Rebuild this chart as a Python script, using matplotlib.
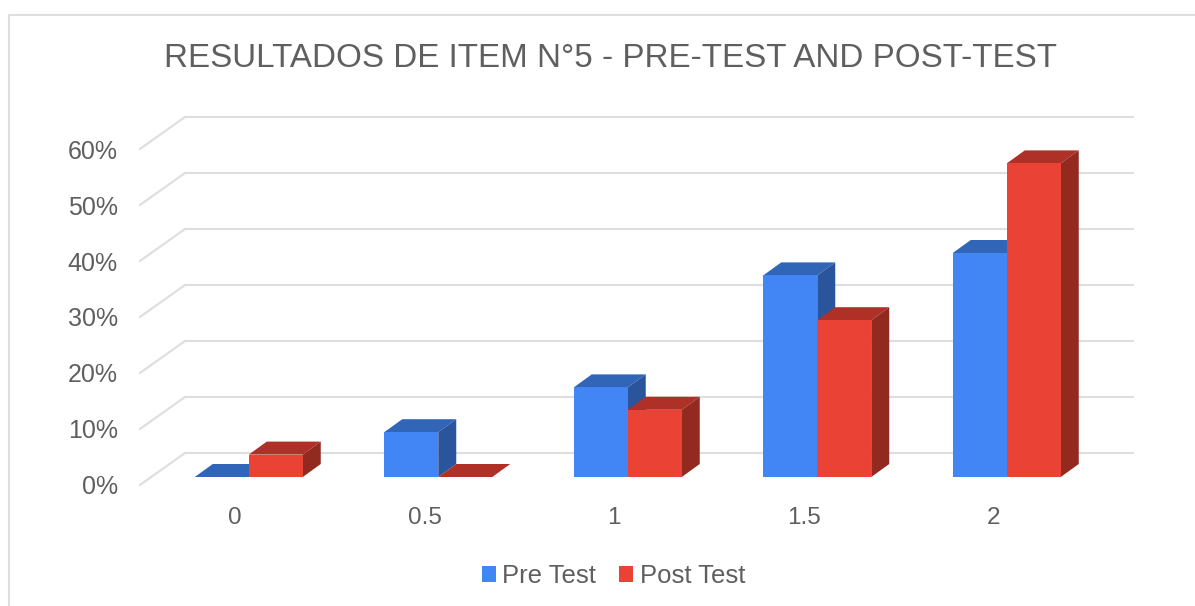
import matplotlib
matplotlib.use("Agg")
import matplotlib.pyplot as plt
from matplotlib.lines import Line2D
from matplotlib.patches import Patch, Polygon
import numpy as np

plt.rcParams['font.family'] = ['Liberation Sans', 'DejaVu Sans']

TITLE = "RESULTADOS DE ITEM N°5 - PRE-TEST AND POST-TEST"
categories = ["0", "0.5", "1", "1.5", "2"]
pre_test = [0, 8, 16, 36, 40]
post_test = [4, 0, 12, 28, 56]
y_ticks = [0, 10, 20, 30, 40, 50, 60]

FIG_W, FIG_H = 1195, 606
TEXT_COLOR = "#5f5f5f"
GRID_COLOR = "#dedede"
PRE_COLORS = ("#4285f4", "#3165b7", "#2a549c")    # front, top, side
POST_COLORS = ("#ea4335", "#ae3026", "#932a20")

# plot area, in pixels: the plane of the bar fronts
AX_LEFT, AX_RIGHT = 154, 1101.5
AX_ZERO, AX_TOP = 477, 141
PX_X = (AX_RIGHT - AX_LEFT) / len(categories)
PX_Y = (AX_ZERO - AX_TOP) / 60


def draw_bars(ax, xs, values, width, colors, depth_x, depth_y, z):
	front, top, side = colors
	for x, v in zip(xs, values):
		left, right = x - width / 2, x + width / 2
		ax.add_patch(Polygon([(left, v), (right, v), (right + depth_x, v + depth_y), (left + depth_x, v + depth_y)],
							 facecolor=top, edgecolor="none", zorder=z, clip_on=False))
		ax.add_patch(Polygon([(right, 0), (right, v), (right + depth_x, v + depth_y), (right + depth_x, depth_y)],
							 facecolor=side, edgecolor="none", zorder=z, clip_on=False))
	ax.bar(xs, values, width=width, color=front, zorder=z + 0.5, clip_on=False)


fig = plt.figure(figsize=(FIG_W / 100, FIG_H / 100), dpi=100)
ax = fig.add_axes([AX_LEFT / FIG_W, 1 - AX_ZERO / FIG_H, (AX_RIGHT - AX_LEFT) / FIG_W, (AX_ZERO - AX_TOP) / FIG_H])
ax.set_xlim(-0.5, len(categories) - 0.5)
ax.set_ylim(0, 60)
ax.axis("off")

# outer chart frame, only top and left are visible
fig.add_artist(Line2D([8.5 / FIG_W, 8.5 / FIG_W, 1], [0, 1 - 15 / FIG_H, 1 - 15 / FIG_H], color=GRID_COLOR, lw=1.5))

# floor/wall gridlines
x0 = -0.5
front_x = x0 + (140 - AX_LEFT) / PX_X
back_x = x0 + (185 - AX_LEFT) / PX_X
end_x = x0 + (1133 - AX_LEFT) / PX_X
front_dy = -8 / PX_Y
back_dy = 24 / PX_Y
for t in y_ticks:
	ax.plot([front_x, back_x, end_x], [t + front_dy, t + back_dy, t + back_dy], color=GRID_COLOR, lw=1.5, zorder=1, clip_on=False)
	ax.annotate("%d%%" % t, (front_x, t + front_dy), xytext=(-22 * 0.72, -2.5 * 0.72), textcoords="offset points",
				ha="right", va="center", fontsize=18, color=TEXT_COLOR, annotation_clip=False)

xs = np.arange(len(categories))
bar_w = 54 / PX_X
depth_x = 18 / PX_X
depth_y = 13 / PX_Y
for i, (pre, post) in enumerate(zip(pre_test, post_test)):
	z = 2 + i
	draw_bars(ax, [xs[i] - bar_w / 2], [pre], bar_w, PRE_COLORS, depth_x, depth_y, z)
	draw_bars(ax, [xs[i] + bar_w / 2], [post], bar_w, POST_COLORS, depth_x, depth_y, z + 0.6)
	ax.annotate(categories[i], (xs[i], 0), xytext=(-13.5 * 0.72, -40.5 * 0.72), textcoords="offset points",
				ha="center", va="center", fontsize=17.5, color=TEXT_COLOR, annotation_clip=False)

fig.text(610 / FIG_W, 1 - 58.5 / FIG_H, TITLE, ha="center", va="center", fontsize=23.85, color=TEXT_COLOR)

handles = [Patch(facecolor=PRE_COLORS[0], label="Pre Test"), Patch(facecolor=POST_COLORS[0], label="Post Test")]
fig.legend(handles=handles, loc="center", bbox_to_anchor=(613.5 / FIG_W, 1 - 576 / FIG_H), ncol=2, frameon=False,
		   fontsize=18.5, labelcolor=TEXT_COLOR, handlelength=0.55, handleheight=0.55, handletextpad=0.25, columnspacing=0.9)

fig.savefig("out.png", dpi=100)
